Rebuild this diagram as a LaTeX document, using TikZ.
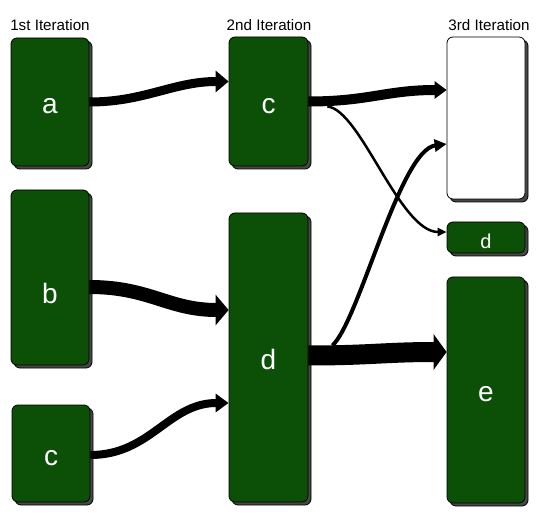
\documentclass[tikz,border=0pt]{standalone}
\usepackage{fontspec}
\setmainfont{Liberation Sans}
\usetikzlibrary{arrows.meta,shadows,calc}
\definecolor{boxgreen}{RGB}{12,80,8}
\definecolor{shadowgray}{RGB}{70,70,70}
\tikzset{
  itbox/.style={draw=black, line width=0.8pt, fill=boxgreen, rounded corners=6pt,
    text=white, font=\fontsize{28}{30}\selectfont, inner sep=0pt,
    drop shadow={shadow xshift=3pt, shadow yshift=-3pt, fill=shadowgray, draw=black, opacity=1}},
  emptybox/.style={itbox, fill=white},
  title/.style={font=\fontsize{15.2}{17}\selectfont, anchor=base, inner sep=0pt},
  flow/.style={draw=black, line cap=butt},
}
\newcommand{\lowered}[2]{\raisebox{-#1pt}[0pt][0pt]{#2}}
\begin{document}
\begin{tikzpicture}[x=1pt,y=1pt]
\useasboundingbox (0,0) rectangle (539,-516);
% titles
\node[title] (t1) at (50,-31) {1st Iteration};
\node[title] (t2) at (269,-31) {2nd Iteration};
\node[title] (t3) at (489,-31) {3rd Iteration};
% column 1
\node[itbox, minimum width=78pt, minimum height=128pt] (a) at (50,-102) {\lowered{11.3}{a}};
\node[itbox, minimum width=78pt, minimum height=175pt] (b) at (50,-277.5) {\lowered{26.5}{b}};
\node[itbox, minimum width=78pt, minimum height=97pt] (c1) at (51,-453.5) {\lowered{11.8}{c}};
% column 2
\node[itbox, minimum width=79pt, minimum height=129pt] (c2) at (268.5,-101.5) {\lowered{12.3}{c}};
\node[itbox, minimum width=79pt, minimum height=289pt] (d2) at (268.5,-357.5) {\lowered{11.5}{d}};
% column 3
\node[emptybox, minimum width=78pt, minimum height=162pt] (w) at (486,-118) {};
\node[itbox, minimum width=78pt, minimum height=31pt, font=\fontsize{20}{22}\selectfont] (sd) at (486,-237.5) {\lowered{10.7}{d}};
\node[itbox, minimum width=78pt, minimum height=226pt] (e) at (486,-390) {\lowered{11.3}{e}};
% helper points
\coordinate (c2s) at ([xshift=19pt,yshift=-5pt]c2.east);
\coordinate (d2s) at ([xshift=24pt,yshift=12pt]d2.east);
\coordinate (sdin) at ([yshift=5.5pt]sd.west);
\coordinate (win) at ([yshift=-26pt]w.west);
% thin connectors
\draw[flow, line width=2.5pt, -{Triangle[length=9pt,width=8pt]}]
  (c2s) .. controls ($(c2s)+(33,-3)$) and ($(sdin)+(-47,0)$) .. (sdin);
\draw[flow, line width=4pt, -{Triangle[length=12pt,width=12pt]}]
  (d2s) .. controls ($(d2s)+(27,25)$) and ($(win)+(-47,-6)$) .. (win);
% thick connectors
\draw[flow, line width=9pt, -{Triangle[length=13pt,width=21pt]}]
  (a.east) .. controls ($(a.east)+(55,0)$) and ($(c2.west)+(-55,20)$) .. ([yshift=20pt]c2.west);
\draw[flow, line width=14pt, -{Triangle[length=13pt,width=30pt]}]
  ([yshift=-9.5pt]b.east) .. controls ($(b.east)+(60,-9.5)$) and ($(d2.west)+(-60,47.5)$) .. ([yshift=47.5pt]d2.west);
\draw[flow, line width=8pt, -{Triangle[length=13pt,width=18pt]}]
  ([yshift=-1.5pt]c1.east) .. controls ($(c1.east)+(60,-1.5)$) and ($(d2.west)+(-60,-45.5)$) .. ([yshift=-45.5pt]d2.west);
\draw[flow, line width=10pt, -{Triangle[length=12pt,width=17pt]}]
  (c2.east) .. controls ($(c2.east)+(60,0)$) and ($(w.west)+(-60,28)$) .. ([yshift=28pt]w.west);
\draw[flow, line width=20pt, -{Triangle[length=13pt,width=35pt]}]
  ([yshift=2pt]d2.east) .. controls ($(d2.east)+(60,2)$) and ($(e.west)+(-60,38)$) .. ([yshift=38pt]e.west);
\end{tikzpicture}
\end{document}
